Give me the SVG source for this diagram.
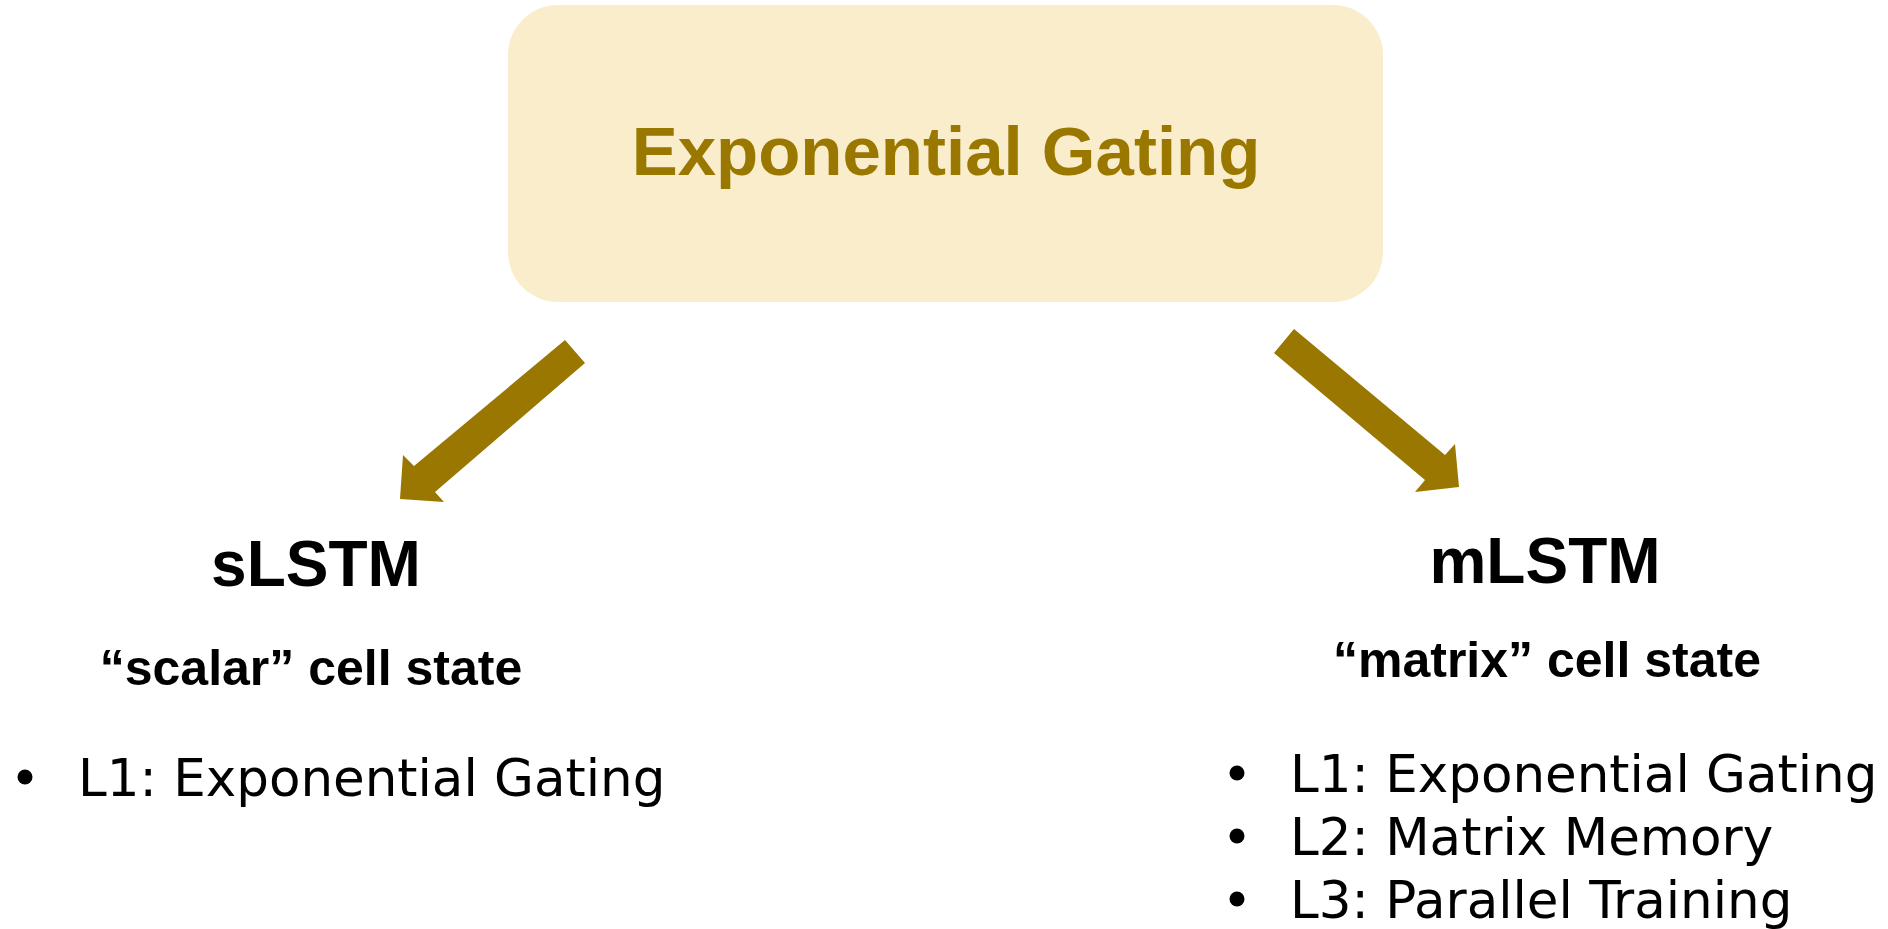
<svg xmlns="http://www.w3.org/2000/svg" width="1888" height="929" viewBox="0 0 1888 929">
  <style>
    .head { font-family: "Liberation Sans", Arial, sans-serif; font-weight: bold; fill: #000; text-anchor: middle; }
    .title { font-size: 64px; }
    .sub { font-size: 50px; }
    .item { font-family: "DejaVu Sans", sans-serif; font-size: 51.5px; fill: #000; }
    .arrow { fill: #9A7700; }
  </style>
  <rect width="1888" height="929" fill="#FFFFFF"/>
  <g id="exponential-gating">
    <rect x="508" y="5" width="875" height="297" rx="50" ry="50" fill="#FAEDCB"/>
    <text x="946" y="175" class="head" style="font-size:69px;fill:#9A7800">Exponential Gating</text>
  </g>
  <g id="connectors">
    <polygon class="arrow" points="565,340 585,363 435,492 444,502 400,499 403,455 414,466"/>
    <polygon class="arrow" points="1294,329 1445,455 1455,444 1459,487 1415,492 1425,480 1274,353"/>
  </g>
  <g id="slstm">
    <text x="316" y="586" class="head title">sLSTM</text>
    <text x="311" y="685" class="head sub">“scalar” cell state</text>
    <circle cx="25" cy="777" r="7.5" fill="#000"/>
    <text x="78" y="796" class="item">L1: Exponential Gating</text>
  </g>
  <g id="mlstm">
    <text x="1545" y="583" class="head title">mLSTM</text>
    <text x="1547" y="677" class="head sub">“matrix” cell state</text>
    <circle cx="1237" cy="773" r="7.5" fill="#000"/>
    <text x="1290" y="792" class="item">L1: Exponential Gating</text>
    <circle cx="1237" cy="836" r="7.5" fill="#000"/>
    <text x="1290" y="855" class="item">L2: Matrix Memory</text>
    <circle cx="1237" cy="899" r="7.5" fill="#000"/>
    <text x="1290" y="918" class="item">L3: Parallel Training</text>
  </g>
</svg>
